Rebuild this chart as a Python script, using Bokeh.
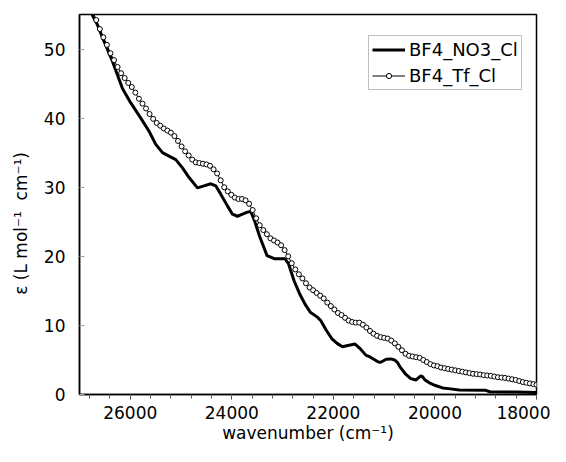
from bokeh.plotting import figure
from bokeh.models import Range1d, SingleIntervalTicker, Legend, LegendItem
from bokeh.embed import file_html
from bokeh.resources import INLINE

# ---------------- data ----------------
no3_x = [26760, 26744, 26646, 26516, 26350, 26154, 25990, 25793, 25630, 25498,
         25366, 25236, 25104, 24972, 24842, 24677, 24547, 24415, 24317, 24218,
         24087, 23988, 23890, 23791, 23693, 23628, 23555, 23448, 23307, 23165,
         22953, 22882, 22776, 22660, 22564, 22455, 22316, 22250, 22140, 22033,
         21927, 21821, 21715, 21573, 21467, 21361, 21270, 21114, 21069, 20960,
         20872, 20795, 20741, 20689, 20583, 20477, 20371, 20279, 20248, 20194,
         20088, 19990, 19850, 19734, 19522, 19000, 18920, 18400, 18000]
no3_y = [55.3, 54.9, 53.5, 51.1, 48.2, 44.3, 42.2, 40.0, 38.1, 36.2,
         35.0, 34.5, 34.0, 32.8, 31.4, 29.9, 30.2, 30.5, 30.2, 29.0,
         27.3, 26.1, 25.8, 26.1, 26.4, 26.5, 25.2, 22.8, 20.1, 19.65,
         19.65, 18.9, 16.5, 14.5, 13.15, 11.9, 11.2, 10.7, 9.3, 8.1,
         7.4, 6.9, 7.1, 7.3, 6.6, 5.7, 5.4, 4.7, 4.66, 5.1,
         5.15, 5.0, 4.66, 4.0, 3.0, 2.3, 2.1, 2.7, 2.6, 2.1,
         1.6, 1.3, 0.95, 0.85, 0.65, 0.6, 0.4, 0.35, 0.3]

tf_x = [26740, 26670, 26600, 26530, 26460, 26390, 26320, 26250, 26180, 26110,
        26040, 25970, 25900, 25830, 25760, 25690, 25620, 25550, 25480, 25410,
        25340, 25270, 25200, 25130, 25060, 24990, 24920, 24850, 24780, 24710,
        24640, 24570, 24500, 24430, 24360, 24290, 24220, 24150, 24080, 24010,
        23940, 23870, 23800, 23730, 23660, 23590, 23520, 23450, 23380, 23310,
        23240, 23170, 23100, 23030, 22960, 22890, 22820, 22750, 22680, 22610,
        22540, 22470, 22400, 22330, 22260, 22190, 22120, 22050, 21980, 21910,
        21840, 21770, 21700, 21630, 21560, 21490, 21420, 21350, 21280, 21210,
        21140, 21070, 21000, 20930, 20860, 20790, 20720, 20650, 20580, 20510,
        20440, 20370, 20300, 20230, 20160, 20090, 20020, 19950, 19880, 19810,
        19740, 19670, 19600, 19530, 19460, 19390, 19320, 19250, 19180, 19110,
        19040, 18970, 18900, 18830, 18760, 18690, 18620, 18550, 18480, 18410,
        18340, 18270, 18200, 18130, 18060, 18000]
tf_y = [55.5, 54.2, 52.9, 51.7, 50.6, 49.4, 48.4, 47.4, 46.5, 45.8,
        45.1, 44.5, 43.7, 42.8, 42.1, 41.4, 40.6, 39.9, 39.3, 38.9,
        38.5, 38.2, 37.9, 37.4, 36.7, 35.9, 35.2, 34.6, 34.0, 33.6,
        33.5, 33.4, 33.3, 33.1, 32.6, 32.0, 31.0, 30.0, 29.4, 28.9,
        28.5, 28.3, 28.3, 28.1, 27.6, 26.7, 25.5, 24.5, 23.8, 23.2,
        22.6, 22.3, 22.0, 21.6, 20.9, 20.0, 19.0, 18.1, 17.4, 16.8,
        16.1, 15.5, 15.1, 14.7, 14.3, 13.9, 13.3, 12.8, 12.3, 11.8,
        11.5, 11.1, 10.7, 10.5, 10.4, 10.4, 10.1, 9.7, 9.2, 8.8,
        8.5, 8.3, 8.2, 8.1, 7.8, 7.4, 6.9, 6.4, 5.9, 5.6,
        5.5, 5.4, 5.3, 5.0, 4.7, 4.4, 4.2, 4.1, 3.9, 3.8,
        3.7, 3.6, 3.5, 3.4, 3.3, 3.2, 3.1, 3.0, 2.95, 2.9,
        2.8, 2.75, 2.7, 2.6, 2.5, 2.45, 2.4, 2.3, 2.2, 2.1,
        1.95, 1.8, 1.7, 1.6, 1.5, 1.4]

series_names = ["BF4_NO3_Cl", "BF4_Tf_Cl"]
x_title = "wavenumber (cm\u207b\u00b9)"
# trailing no-break spaces shift the visible title down along the axis, as in the reference
y_title = "\u03b5 (L mol\u207b\u00b9\u00a0 cm\u207b\u00b9)" + "\u00a0" * 7
x_start, x_end = 27000, 18000
y_start, y_end = 0, 55

FONT = "DejaVu Sans"

p = figure(width=550, height=446, output_backend="svg", toolbar_location=None,
           x_range=Range1d(x_start, x_end), y_range=Range1d(y_start, y_end),
           min_border_left=79, min_border_right=14, min_border_top=14,
           min_border_bottom=52)
p.background_fill_color = "white"
p.border_fill_color = "white"
p.outline_line_color = "black"
p.outline_line_width = 1.5
p.xgrid.visible = False
p.ygrid.visible = False

r_no3 = p.line(no3_x, no3_y, line_color="black", line_width=3)
r_tf_line = p.line(tf_x, tf_y, line_color="black", line_width=1)
r_tf_pts = p.scatter(tf_x, tf_y, marker="circle", size=5, fill_color="white",
                     line_color="black", line_width=1)

# x axis
xa = p.xaxis[0]
xa.ticker = SingleIntervalTicker(interval=2000, num_minor_ticks=5)
xa.axis_line_color = "black"
xa.axis_line_width = 1.5
xa.major_tick_out = 5
xa.major_tick_in = 0
xa.minor_tick_out = 4
xa.minor_tick_in = 0
xa.major_tick_line_color = "#333333"
xa.minor_tick_line_color = "#555555"
xa.major_label_text_font = FONT
xa.major_label_text_font_size = "17px"
xa.major_label_text_color = "black"
xa.major_label_standoff = 6
xa.axis_label = x_title
xa.axis_label_text_font = FONT
xa.axis_label_text_font_size = "17px"
xa.axis_label_text_font_style = "normal"
xa.axis_label_text_color = "black"
xa.axis_label_standoff = 1

# y axis
ya = p.yaxis[0]
ya.ticker = SingleIntervalTicker(interval=10, num_minor_ticks=0)
ya.axis_line_color = "black"
ya.axis_line_width = 1.5
ya.major_tick_in = 5
ya.major_tick_out = 0
ya.minor_tick_in = 0
ya.minor_tick_out = 0
ya.major_tick_line_color = "#a0a0a0"
ya.major_label_text_font = FONT
ya.major_label_text_font_size = "17px"
ya.major_label_text_color = "black"
ya.major_label_standoff = 14
ya.axis_label = y_title
ya.axis_label_text_font = FONT
ya.axis_label_text_font_size = "17px"
ya.axis_label_text_font_style = "normal"
ya.axis_label_text_color = "black"
ya.axis_label_standoff = 10

legend = Legend(items=[LegendItem(label=series_names[0], renderers=[r_no3]),
                       LegendItem(label=series_names[1], renderers=[r_tf_line, r_tf_pts])],
                location=(289, 304))
legend.label_text_font = FONT
legend.label_text_font_size = "18px"
legend.label_text_color = "black"
legend.glyph_width = 33
legend.glyph_height = 13
legend.label_height = 21
legend.label_standoff = 4
legend.padding = 3
legend.spacing = 5
legend.margin = 0
legend.border_line_color = "#808080"
legend.border_line_width = 1
legend.background_fill_color = "white"
legend.background_fill_alpha = 1.0
p.add_layout(legend)

open("out.html", "w").write(file_html(p, INLINE))
